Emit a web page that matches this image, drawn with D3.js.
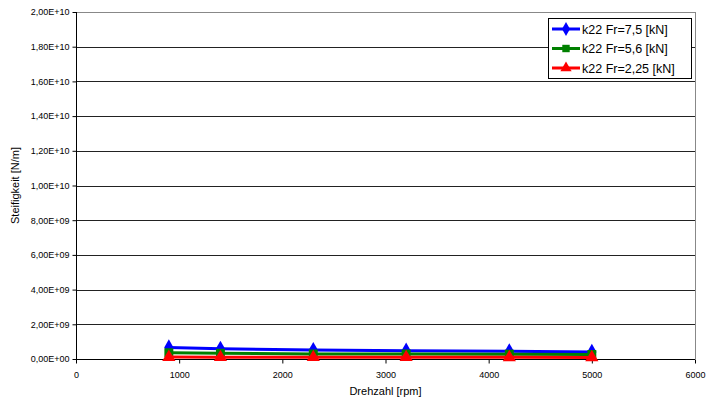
<!DOCTYPE html>
<html><head><meta charset="utf-8">
<script src="https://cdn.jsdelivr.net/npm/d3@7"></script>
<style>body{margin:0;background:#fff}svg{display:block;font-family:"Liberation Sans",Arial,sans-serif}</style>
</head><body><svg id="c" width="714" height="403"></svg>
<script>
const rpm = [900, 1400, 2300, 3200, 4200, 5000];
const k75 = [6.7e8, 5.9e8, 5.2e8, 4.8e8, 4.4e8, 4.1e8];
const k56 = [3.6e8, 3.3e8, 2.9e8, 2.9e8, 2.8e8, 2.6e8];
const k225 = [1.1e8, 1.0e8, 1.0e8, 1.0e8, 0.95e8, 0.9e8];
const seriesNames = ["k22 Fr=7,5 [kN]", "k22 Fr=5,6 [kN]", "k22 Fr=2,25 [kN]"];
const xTicks = [0, 1000, 2000, 3000, 4000, 5000, 6000];
const yTicks = [0, 2e9, 4e9, 6e9, 8e9, 1e10, 1.2e10, 1.4e10, 1.6e10, 1.8e10, 2e10];

const FONT = "'Liberation Sans', Arial, sans-serif";
const svg = d3.select("#c");
const L = 76, R = 695, T = 12, B = 359;
const x = d3.scaleLinear().domain([0, 6000]).range([L, R]);
const y = d3.scaleLinear().domain([0, 2e10]).range([B, T]);

const fmtY = v => {
  if (v === 0) return "0,00E+00";
  const e = Math.floor(Math.log10(v));
  const m = v / Math.pow(10, e);
  return m.toFixed(2).replace(".", ",") + "E+" + String(e).padStart(2, "0");
};

// gridlines
svg.append("g").selectAll("line").data(yTicks.slice(1)).join("line")
  .attr("x1", L).attr("x2", R).attr("y1", d => Math.round(y(d)) + 0.5).attr("y2", d => Math.round(y(d)) + 0.5)
  .attr("stroke", d => d === 2e10 ? "#888" : "#222").attr("stroke-width", 1);
// right border
svg.append("line").attr("x1", R + 0.5).attr("x2", R + 0.5).attr("y1", T).attr("y2", B)
  .attr("stroke", "#888");

// axes
const xAxis = d3.axisBottom(x).tickValues(xTicks).tickSize(4).tickFormat(d3.format("d"));
const gx = svg.append("g").attr("transform", `translate(0,${Math.round(B) + 0.5})`).call(xAxis);
gx.select(".domain").attr("stroke", "#000").attr("d", `M${L},0H${R}`);
gx.selectAll(".tick line").attr("stroke", "#000");
gx.selectAll(".tick text").attr("font-size", 9).attr("fill", "#000").attr("y", 10).attr("dy", "0.9em")
  .attr("font-family", FONT);

const yAxis = d3.axisLeft(y).tickValues(yTicks).tickSize(4).tickFormat(fmtY);
const gy = svg.append("g").attr("transform", `translate(${L + 0.5},0)`).call(yAxis);
gy.select(".domain").attr("stroke", "#000").attr("d", `M0,${T}V${B}`);
gy.selectAll(".tick line").attr("stroke", "#000");
gy.selectAll(".tick text").attr("font-size", 9).attr("fill", "#000").attr("x", -7)
  .attr("font-family", FONT);

// axis titles
svg.append("text").attr("x", (L + R) / 2).attr("y", 395).attr("text-anchor", "middle")
  .attr("font-size", 11).attr("font-family", FONT).text("Drehzahl [rpm]");
svg.append("text").attr("transform", `translate(19,${(T + B) / 2}) rotate(-90)`).attr("text-anchor", "middle")
  .attr("font-size", 11).attr("font-family", FONT).text("Steifigkeit [N/m]");

const series = [
  {name: seriesNames[0], vals: k75, color: "#0000ff", sym: d3.symbolDiamond, size: 75},
  {name: seriesNames[1], vals: k56, color: "#008000", sym: d3.symbolSquare, size: 80},
  {name: seriesNames[2], vals: k225, color: "#ff0000", sym: d3.symbolTriangle, size: 75}
];
const line = d3.line().x(d => x(d[0])).y(d => y(d[1]));
series.forEach(s => {
  const pts = rpm.map((r, i) => [r, s.vals[i]]);
  svg.append("path").datum(pts).attr("d", line).attr("fill", "none")
    .attr("stroke", s.color).attr("stroke-width", 3);
  svg.append("g").selectAll("path").data(pts).join("path")
    .attr("d", d3.symbol().type(s.sym).size(s.size))
    .attr("transform", d => `translate(${x(d[0])},${y(d[1])})`)
    .attr("fill", s.color);
});

// legend
const lg = svg.append("g");
lg.append("rect").attr("x", 548.5).attr("y", 18.5).attr("width", 143).attr("height", 60)
  .attr("fill", "#fff").attr("stroke", "#000");
series.forEach((s, i) => {
  const yy = 29 + i * 19.5;
  lg.append("line").attr("x1", 552).attr("x2", 580).attr("y1", yy).attr("y2", yy)
    .attr("stroke", s.color).attr("stroke-width", 3);
  lg.append("path").attr("d", d3.symbol().type(s.sym).size(55)).attr("transform", `translate(566,${yy})`)
    .attr("fill", s.color);
  lg.append("text").attr("x", 582).attr("y", yy + 4.5).attr("font-size", 12.5).attr("font-family", FONT).text(s.name);
});
</script></body></html>
